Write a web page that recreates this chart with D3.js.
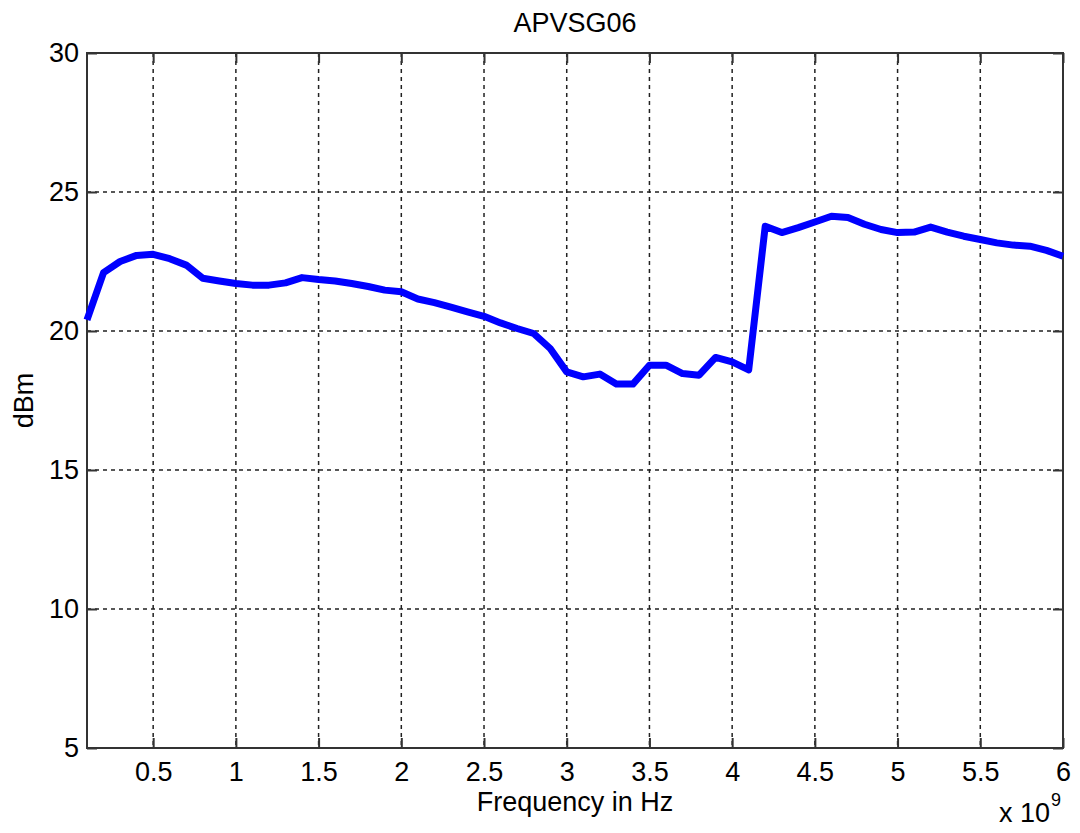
<!DOCTYPE html>
<html>
<head>
<meta charset="utf-8">
<script src="https://cdn.jsdelivr.net/npm/d3@7"></script>
<style>
  body { margin: 0; background: #fff; }
  text { font-family: "Liberation Sans", Arial, sans-serif; fill: #000; }
</style>
</head>
<body>
<div id="chart"></div>
<script>
// Frequency in GHz (axis shows x 10^9)
const freq = [0.1, 0.2, 0.3, 0.4, 0.5, 0.6, 0.7, 0.8, 0.9, 1.0,
              1.1, 1.2, 1.3, 1.4, 1.5, 1.6, 1.7, 1.8, 1.9, 2.0,
              2.1, 2.2, 2.3, 2.4, 2.5, 2.6, 2.7, 2.8, 2.9, 3.0,
              3.1, 3.2, 3.3, 3.4, 3.5, 3.6, 3.7, 3.8, 3.9, 4.0,
              4.1, 4.2, 4.3, 4.4, 4.5, 4.6, 4.7, 4.8, 4.9, 5.0,
              5.1, 5.2, 5.3, 5.4, 5.5, 5.6, 5.7, 5.8, 5.9, 6.0];
// Power in dBm
const power = [20.4, 22.1, 22.5, 22.72, 22.76, 22.6, 22.37, 21.9, 21.8, 21.71,
               21.65, 21.65, 21.73, 21.92, 21.85, 21.8, 21.71, 21.6, 21.47, 21.41,
               21.15, 21.02, 20.86, 20.69, 20.53, 20.29, 20.09, 19.91, 19.37, 18.53,
               18.35, 18.45, 18.09, 18.09, 18.77, 18.77, 18.47, 18.41, 19.05, 18.89,
               18.6, 23.77, 23.54, 23.72, 23.92, 24.13, 24.08, 23.84, 23.65, 23.54,
               23.56, 23.74, 23.56, 23.41, 23.29, 23.17, 23.09, 23.05, 22.9, 22.69];

const xTicks = [0.5, 1, 1.5, 2, 2.5, 3, 3.5, 4, 4.5, 5, 5.5, 6];
const yTicks = [5, 10, 15, 20, 25, 30];

const W = 1080, H = 833;
const margin = { left: 87, right: 17, top: 53, bottom: 85 };
const iw = W - margin.left - margin.right;
const ih = H - margin.top - margin.bottom;

const svg = d3.select("#chart").append("svg")
    .attr("width", W)
    .attr("height", H);

const g = svg.append("g").attr("transform", `translate(${margin.left},${margin.top})`);

const x = d3.scaleLinear().domain([0.1, 6]).range([0, iw]);
const y = d3.scaleLinear().domain([5, 30]).range([ih, 0]);

// grid lines (dotted)
g.append("g").selectAll("line").data(xTicks.filter(d => d < 6)).join("line")
    .attr("x1", d => x(d)).attr("x2", d => x(d))
    .attr("y1", 0).attr("y2", ih)
    .attr("stroke", "#222").attr("stroke-width", 1.5).attr("stroke-dasharray", "4,4");
g.append("g").selectAll("line").data(yTicks.filter(d => d > 5 && d < 30)).join("line")
    .attr("x1", 0).attr("x2", iw)
    .attr("y1", d => y(d)).attr("y2", d => y(d))
    .attr("stroke", "#222").attr("stroke-width", 1.5).attr("stroke-dasharray", "4,4");

// axes, ticks pointing inward like MATLAB
const fmt = d => String(d);
const axStyle = sel => {
    sel.select(".domain").remove();
    sel.selectAll(".tick line").attr("stroke", "#333").attr("stroke-width", 2);
    sel.selectAll(".tick text").style("font-size", "27px")
       .style("font-family", "'Liberation Sans', Arial, sans-serif").attr("fill", "#000");
};

g.append("g").attr("transform", `translate(0,${ih})`)
    .call(d3.axisBottom(x).tickValues(xTicks).tickFormat(fmt).tickSizeInner(-10).tickPadding(14))
    .call(axStyle);
g.append("g")
    .call(d3.axisTop(x).tickValues(xTicks).tickFormat("").tickSizeInner(-10))
    .call(axStyle);
g.append("g")
    .call(d3.axisLeft(y).tickValues(yTicks).tickFormat(fmt).tickSizeInner(-10).tickPadding(8))
    .call(axStyle);
g.append("g").attr("transform", `translate(${iw},0)`)
    .call(d3.axisRight(y).tickValues(yTicks).tickFormat("").tickSizeInner(-10))
    .call(axStyle);

// box
g.append("rect")
    .attr("width", iw).attr("height", ih)
    .attr("fill", "none").attr("stroke", "#333").attr("stroke-width", 2);

// data line
const line = d3.line().x((d, i) => x(freq[i])).y(d => y(d));
g.append("path")
    .datum(power)
    .attr("d", line)
    .attr("fill", "none")
    .attr("stroke", "#0000ff")
    .attr("stroke-width", 7)
    .attr("stroke-linejoin", "round");

// title and labels
svg.append("text")
    .attr("x", margin.left + iw / 2).attr("y", 32)
    .attr("text-anchor", "middle").style("font-size", "27px")
    .text("APVSG06");

svg.append("text")
    .attr("x", margin.left + iw / 2).attr("y", 811)
    .attr("text-anchor", "middle").style("font-size", "27px")
    .text("Frequency in Hz");

svg.append("text")
    .attr("transform", `translate(33,${margin.top + ih / 2}) rotate(-90)`)
    .attr("text-anchor", "middle").style("font-size", "27px")
    .text("dBm");

const expo = svg.append("text")
    .attr("x", 1050).attr("y", 822)
    .attr("text-anchor", "end").style("font-size", "27px");
expo.append("tspan").text("x 10");
svg.append("text")
    .attr("x", 1051).attr("y", 806)
    .style("font-size", "18px")
    .text("9");
</script>
</body>
</html>
